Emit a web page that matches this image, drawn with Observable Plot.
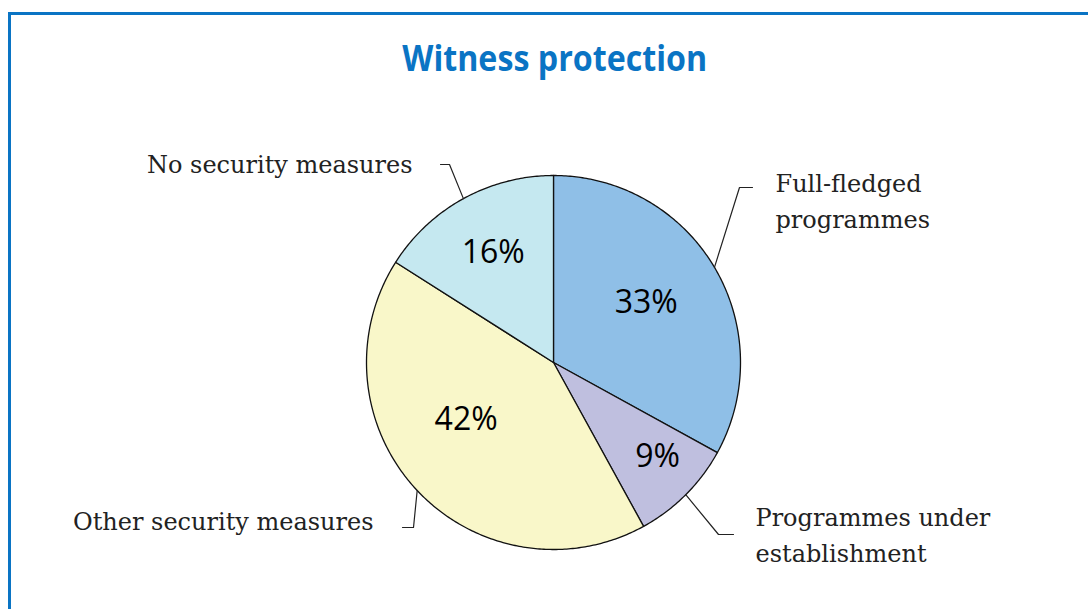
<!DOCTYPE html>
<html>
<head>
<meta charset="utf-8">
<script src="https://cdn.jsdelivr.net/npm/d3@7"></script>
<script src="https://cdn.jsdelivr.net/npm/@observablehq/plot@0.6"></script>
<style>
  html, body { margin: 0; padding: 0; background: #fff; }
  #wrap { position: relative; width: 1088px; height: 609px; overflow: hidden; }
  #frame { position: absolute; left: 8px; top: 12px; width: 1100px; height: 700px;
           border-top: 3px solid #0a74c4; border-left: 3px solid #0a74c4; }
  #title { position: absolute; left: 0; width: 1110px; top: 36px; text-align: center;
           font-family: "Open Sans", sans-serif; font-weight: 700; font-size: 35px; color: #0a74c4;
           line-height: 44px; }
  #title span { display: inline-block; transform: scaleX(0.92); transform-origin: center; }
  #chart { position: absolute; left: 0; top: 0; }
</style>
</head>
<body>
<div id="wrap">
  <div id="frame"></div>
  <div id="title"><span>Witness protection</span></div>
  <div id="chart"></div>
</div>
<script>
// ---- data ----
const categories = ["Full-fledged programmes", "Programmes under establishment", "Other security measures", "No security measures"];
const values = [33, 9, 42, 16];
const labelLines = [["Full-fledged", "programmes"], ["Programmes under", "establishment"], ["Other security measures"], ["No security measures"]];
const colors = ["#8fbfe7", "#bfbfdf", "#f9f7c9", "#c5e8f0"];

// ---- layout (pixels) ----
const W = 1088, H = 609;
const cx = 553, cy = 362, R = 187;
// percent label polar placement: radius fraction, angle tweak (radians)
const pctPlace = [[0.59, -0.04], [0.75, -0.05], [0.56, 0.17], [0.67, 0.0]];
// leader elbows & label anchors (pixels)
const leaderElbow = [[739, 187], [718, 534], [413, 527], [449, 164]];
const leaderEnd = [[752, 187], [733, 534], [402, 527], [440, 164]];
const labelAnchor = [[775, 184, "start"], [755, 518, "start"], [373, 522, "end"], [412, 165, "end"]];
const lineGap = 36;

// scales in "radius units" so that 1 unit = R px
const px = v => (v - cx) / R;
const py = v => (cy - v) / R;

const pie = d3.pie().sort(null).value(d => d.value);
const data = categories.map((c, i) => ({category: c, value: values[i]}));
const arcs = pie(data);

// slice polygons
const slicePts = [];
arcs.forEach(a => {
  const n = Math.max(8, Math.ceil((a.endAngle - a.startAngle) * 90));
  slicePts.push({category: a.data.category, x: 0, y: 0});
  for (let k = 0; k <= n; k++) {
    const t = a.startAngle + (a.endAngle - a.startAngle) * k / n;
    slicePts.push({category: a.data.category, x: Math.sin(t), y: Math.cos(t)});
  }
  slicePts.push({category: a.data.category, x: 0, y: 0});
});

// percent labels
const pctLabels = arcs.map((a, i) => {
  const m = (a.startAngle + a.endAngle) / 2 + pctPlace[i][1];
  const r = pctPlace[i][0];
  return {x: r * Math.sin(m), y: r * Math.cos(m), text: a.data.value + "%"};
});

// leader lines
const leaders = [];
arcs.forEach((a, i) => {
  const m = (a.startAngle + a.endAngle) / 2;
  leaders.push({k: i, x: Math.sin(m), y: Math.cos(m)});
  leaders.push({k: i, x: px(leaderElbow[i][0]), y: py(leaderElbow[i][1])});
  leaders.push({k: i, x: px(leaderEnd[i][0]), y: py(leaderEnd[i][1])});
});

// category labels
const catLabels = [];
labelLines.forEach((lines, i) => {
  lines.forEach((t, j) => {
    catLabels.push({x: px(labelAnchor[i][0]), y: py(labelAnchor[i][1] + j * lineGap), text: t, anchor: labelAnchor[i][2]});
  });
});

const plot = Plot.plot({
  width: W, height: H,
  margin: 0,
  style: {background: "transparent"},
  x: {domain: [px(0), px(W)], range: [0, W], axis: null},
  y: {domain: [py(H), py(0)], range: [H, 0], axis: null},
  color: {domain: categories, range: colors},
  marks: [
    Plot.line(slicePts, {x: "x", y: "y", z: "category", fill: "category", stroke: "#111", strokeWidth: 1.3, curve: "linear", strokeLinejoin: "round"}),
    Plot.line(leaders, {x: "x", y: "y", z: "k", stroke: "#222", strokeWidth: 1.2}),
    Plot.text(pctLabels, {x: "x", y: "y", text: "text", fontSize: 32, fill: "#000", fontFamily: "Open Sans, sans-serif"}),
    Plot.text(catLabels.filter(d => d.anchor === "start"), {x: "x", y: "y", text: "text", textAnchor: "start", fontSize: 24, fill: "#222", fontFamily: "DejaVu Serif, serif"}),
    Plot.text(catLabels.filter(d => d.anchor === "end"), {x: "x", y: "y", text: "text", textAnchor: "end", fontSize: 24, fill: "#222", fontFamily: "DejaVu Serif, serif"})
  ]
});
document.getElementById("chart").appendChild(plot);
</script>
</body>
</html>
